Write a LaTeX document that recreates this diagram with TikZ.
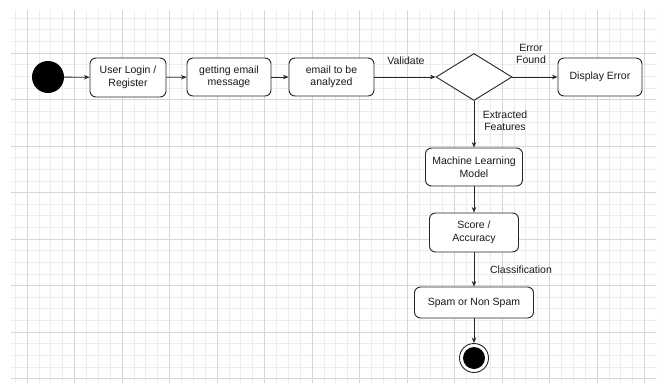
\documentclass[tikz,border=0pt]{standalone}
\usepackage{fontspec}
\setmainfont{Liberation Sans}
\usetikzlibrary{arrows.meta,shapes.geometric}
\begin{document}
\begin{tikzpicture}[x=1pt,y=-1pt,
  txt/.style={font=\fontsize{10.5}{12.5}\selectfont, text=black!90},
  action/.style={txt, draw=black!85, line width=0.9pt, rounded corners=6pt,
    fill=white, align=center, inner sep=0pt},
  flow/.style={draw=black!85, line width=0.8pt,
    -{Stealth[length=5.5pt,width=4.5pt]}},
  lbl/.style={txt, align=center, inner sep=0pt},
  minorgrid/.style={draw=black!7, line width=0.6pt},
  majorgrid/.style={draw=black!16, line width=0.7pt}]
\useasboundingbox[fill=white] (0,0) rectangle (662,383);

% background grid paper
\begin{scope}
  \clip (11,10) rectangle (656,383);
  \foreach \k in {-1,...,53}
    \draw[minorgrid] (27+\k*11.875,10) -- (27+\k*11.875,383);
  \foreach \k in {-3,...,28}
    \draw[minorgrid] (11,53+\k*11.625) -- (656,53+\k*11.625);
  \foreach \k in {0,...,13}
    \draw[majorgrid] (27+\k*47.5,10) -- (27+\k*47.5,383);
  \foreach \k in {0,...,7}
    \draw[majorgrid] (11,53+\k*46.5) -- (656,53+\k*46.5);
\end{scope}

% activity nodes
\node[circle, fill=black, minimum size=32, inner sep=0pt] (start) at (48,77) {};
\node[action, minimum width=76, minimum height=39] (login) at (128,77.5) {User Login /\\Register};
\node[action, minimum width=84, minimum height=38] (fetch) at (229,77) {getting email\\message};
\node[action, minimum width=85, minimum height=38] (analyze) at (331.5,77) {email to be\\analyzed};
\node[diamond, draw=black!85, line width=0.9pt, fill=white, inner sep=0pt,
      minimum width=76, minimum height=47] (check) at (474,77) {};
\node[action, minimum width=84, minimum height=38] (error) at (600,77) {Display Error};
\node[action, minimum width=97, minimum height=38] (model) at (474,167) {Machine Learning\\Model};
\node[action, minimum width=89, minimum height=39] (score) at (474,232.5) {Score /\\Accuracy};
\node[action, minimum width=119, minimum height=31] (spam) at (474,302.5) {Spam or Non Spam};
\node[circle, draw=black!85, line width=0.9pt, fill=white, minimum size=29, inner sep=0pt] (stop) at (474,358) {};
\node[circle, fill=black, minimum size=22, inner sep=0pt] (stopcore) at (stop) {};

% transitions
\draw[flow] (start) -- (login);
\draw[flow] (login) -- (fetch);
\draw[flow] (fetch) -- (analyze);
\draw[flow] (analyze) -- (check);
\draw[flow] (check) -- (error);
\draw[flow] (check) -- (model);
\draw[flow] (model) -- (score);
\draw[flow] (score) -- (spam);
\draw[flow] (spam) -- (stop);

% guard labels
\node[lbl] (lvalidate) at (406,61) {Validate};
\node[lbl] (lerror) at (531,54) {Error\\Found};
\node[lbl] (lfeatures) at (505,120.5) {Extracted\\Features};
\node[lbl] (lclass) at (521,270) {Classification};
\end{tikzpicture}
\end{document}
